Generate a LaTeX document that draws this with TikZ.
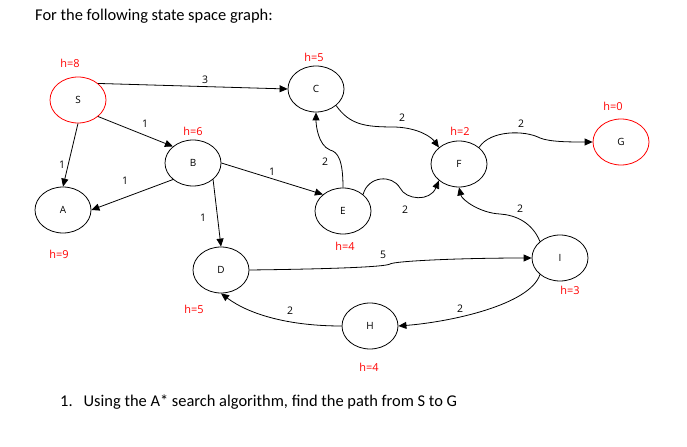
\documentclass[tikz,border=0pt]{standalone}
\usepackage{fontspec}
\setmainfont{Open Sans}
\newfontfamily\docfont{Carlito}
\usetikzlibrary{shapes.geometric,arrows.meta,positioning}
\definecolor{HR}{HTML}{FF0000}

\begin{document}
\begin{tikzpicture}[x=1bp,y=-1bp,
    state/.style={draw, ellipse, line width=0.8bp,
      minimum width=56bp, minimum height=46bp, inner sep=0pt,
      font=\fontsize{10}{12}\selectfont},
    goal/.style={state, draw=HR},
    heur/.style={text=HR, font=\fontsize{11}{13}\selectfont, inner sep=0pt},
    wt/.style={font=\fontsize{10.5}{12}\selectfont, inner sep=0pt},
    edge/.style={line width=0.8bp, -{Triangle[length=8bp,width=7bp]}}]
  \useasboundingbox (0,0) rectangle (687,447);

  % title and question
  \node[anchor=west, inner sep=0pt, font=\docfont\fontsize{16.5}{19}\selectfont]
    (title) at (35,16) {For the following state space graph:};
  \node[anchor=west, inner sep=0pt, font=\docfont\fontsize{16.5}{19}\selectfont]
    (task) at (60,402) {1.\hspace{11bp}Using the A* search algorithm, find the path from S to G};

  % states
  \node[goal]  (S) at (78,100)  {S};
  \node[state] (C) at (316,89)  {C};
  \node[state] (B) at (193,163) {B};
  \node[state] (A) at (63,210)  {A};
  \node[state] (E) at (343,211) {E};
  \node[state] (F) at (459,164) {F};
  \node[goal]  (G) at (621,142) {G};
  \node[state] (D) at (221,270) {D};
  \node[state] (I) at (560,258) {I};
  \node[state] (H) at (370,326) {H};

  % heuristics
  \node[heur] (hS) at (70,63)   {h=8};
  \node[heur] (hC) at (314,57)  {h=5};
  \node[heur] (hB) at (193,131) {h=6};
  \node[heur] (hF) at (460,131) {h=2};
  \node[heur] (hG) at (613,106) {h=0};
  \node[heur] (hA) at (59,254)  {h=9};
  \node[heur] (hE) at (345,246) {h=4};
  \node[heur] (hD) at (194,309) {h=5};
  \node[heur] (hI) at (570,290) {h=3};
  \node[heur] (hH) at (369,367) {h=4};

  % edges
  \draw[edge] (S.north east) -- (C.west);
  \draw[edge] (S.south east) -- (B.north west);
  \draw[edge] (S.south) -- (A.north);
  \draw[edge] (B.south west) -- (A.east);
  \draw[edge] (B.east) -- (E.north west);
  \draw[edge] (B.south east) -- (D.north);
  \draw[edge] (E.north) .. controls (343,160) and (338,152) .. (330,150)
    .. controls (318,145) and (316,125) .. (C.south);
  \draw[edge] (C.south east) .. controls (350,125) and (365,127) .. (395,127)
    .. controls (420,128) and (432,138) .. (F.north west);
  \draw[edge] (E.north east) .. controls (368,176) and (392,174) .. (400,188)
    .. controls (406,200) and (430,202) .. (F.south west);
  \draw[edge] (F.north east) .. controls (490,130) and (525,130) .. (540,138)
    .. controls (550,142) and (570,142) .. (G.west);
  \draw[edge] (I.north west) .. controls (532,222) and (515,215) .. (500,214)
    .. controls (480,213) and (462,200) .. (F.south);
  \draw[edge] (D.east) .. controls (330,269) and (385,267) .. (390,264)
    .. controls (395,261) and (460,258) .. (I.west);
  \draw[edge] (I.south west) .. controls (530,305) and (450,322) .. (H.east);
  \draw[edge] (H.west) .. controls (290,326) and (250,315) .. (D.south);

  % weights
  \node[wt] (wSC) at (205,80)  {3};
  \node[wt] (wSB) at (145,124) {1};
  \node[wt] (wSA) at (62,165)  {1};
  \node[wt] (wBA) at (125,181) {1};
  \node[wt] (wBE) at (272,172) {1};
  \node[wt] (wBD) at (203,218) {1};
  \node[wt] (wEC) at (325,162) {2};
  \node[wt] (wCF) at (402,118) {2};
  \node[wt] (wEF) at (405,210) {2};
  \node[wt] (wFG) at (521,124) {2};
  \node[wt] (wIF) at (520,209) {2};
  \node[wt] (wDI) at (383,255) {5};
  \node[wt] (wIH) at (460,309) {2};
  \node[wt] (wHD) at (290,311) {2};
\end{tikzpicture}
\end{document}
